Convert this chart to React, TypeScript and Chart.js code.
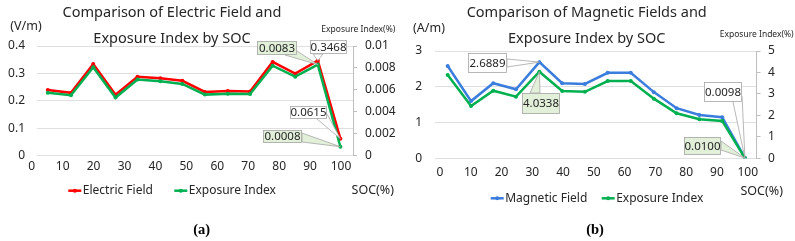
import React, { useEffect, useRef } from 'react';
import { Chart, registerables } from 'chart.js';

Chart.register(...registerables);

// ---------- data (a) ----------
const socA = [5.2, 12.7, 19.9, 27.1, 34.2, 41.6, 48.7, 56.0, 63.4, 70.6, 77.9, 85.2, 92.5, 99.8];
const electricField = [0.239, 0.229, 0.334, 0.222, 0.288, 0.282, 0.273, 0.232, 0.236, 0.234, 0.342, 0.299, 0.3468, 0.0615];
const exposureA = [0.00572, 0.00551, 0.00806, 0.00529, 0.00693, 0.00678, 0.00654, 0.00556, 0.00565, 0.00562, 0.0082, 0.0072, 0.0083, 0.0008];
const yTicksA = [0, 0.1, 0.2, 0.3, 0.4];
const yTickLabelsA = ['0', '0.1', '0.2', '0.3', '0.4'];
const y1TicksA = [0, 0.002, 0.004, 0.006, 0.008, 0.01];
const y1TickLabelsA = ['0', '0.002', '0.004', '0.006', '0.008', '0.01'];

// ---------- data (b) ----------
const socB = [2.5, 10.1, 17.3, 24.7, 32.3, 39.7, 47.1, 54.5, 62.0, 69.5, 76.9, 84.3, 91.7, 99.1];
const magneticField = [2.58, 1.6, 2.1, 1.93, 2.6889, 2.1, 2.08, 2.39, 2.39, 1.85, 1.4, 1.21, 1.15, 0.0098];
const exposureB = [3.88, 2.44, 3.15, 2.87, 4.0338, 3.14, 3.1, 3.6, 3.6, 2.78, 2.1, 1.82, 1.74, 0.01];
const yTicksB = [0, 1, 2, 3];
const yTickLabelsB = ['0', '1', '2', '3'];
const y1TicksB = [0, 1, 2, 3, 4, 5];
const y1TickLabelsB = ['0', '1', '2', '3', '4', '5'];

// shared x ticks
const xTicks = [0, 10, 20, 30, 40, 50, 60, 70, 80, 90, 100];
const xTickLabels = ['0', '10', '20', '30', '40', '50', '60', '70', '80', '90', '100'];

const FONT = '"Noto Sans", sans-serif';
const TXT = '#262626';
const RED = '#FF0000';
const GREEN = '#00B050';
const BLUE = '#3B7DDD';
const GRID = '#E0E0E0';
const AXIS = '#BFBFBF';
const CALLOUT_GREEN = '#E2F0D9';
const CALLOUT_BORDER = '#A6A6A6';

type TextItem = { text: string; x: number; y: number; size: number; align?: CanvasTextAlign; bold?: boolean; serif?: boolean };
type LegendItem = { text: string; x: number; y: number; color: string };
type Callout = { text: string; ds: number; idx: number; box: [number, number, number, number]; base: [number, number, number, number]; fill: string };
type Decor = { texts: TextItem[]; legend: LegendItem[]; callouts: Callout[]; xLabelY: number };

function makeDecor(cfg: Decor) {
  return {
    id: 'decor',
    afterDraw(chart: any) {
      const ctx: CanvasRenderingContext2D = chart.ctx;
      ctx.save();
      ctx.textBaseline = 'middle';
      // x-axis tick labels, placed through the library's x scale
      const xs = chart.scales.x;
      ctx.font = `12px ${FONT}`;
      ctx.fillStyle = TXT;
      ctx.textAlign = 'center';
      xTicks.forEach((v, i) => {
        ctx.fillText(xTickLabels[i], xs.getPixelForValue(v), cfg.xLabelY);
      });
      for (const t of cfg.texts) {
        ctx.font = `${t.bold ? 'bold ' : ''}${t.size}px ${t.serif ? '"Liberation Serif", serif' : FONT}`;
        ctx.fillStyle = t.serif ? '#000' : TXT;
        ctx.textAlign = t.align || 'center';
        ctx.fillText(t.text, t.x, t.y);
      }
      for (const l of cfg.legend) {
        ctx.strokeStyle = l.color;
        ctx.lineWidth = 2.5;
        ctx.beginPath();
        ctx.moveTo(l.x, l.y);
        ctx.lineTo(l.x + 13, l.y);
        ctx.stroke();
        ctx.fillStyle = l.color;
        ctx.beginPath();
        ctx.arc(l.x + 6.5, l.y, 2, 0, Math.PI * 2);
        ctx.fill();
        ctx.font = `12px ${FONT}`;
        ctx.fillStyle = TXT;
        ctx.textAlign = 'left';
        ctx.fillText(l.text, l.x + 14.5, l.y);
      }
      for (const c of cfg.callouts) {
        const pt = chart.getDatasetMeta(c.ds).data[c.idx];
        ctx.beginPath();
        ctx.moveTo(c.base[0], c.base[1]);
        ctx.lineTo(pt.x, pt.y);
        ctx.lineTo(c.base[2], c.base[3]);
        ctx.closePath();
        ctx.fillStyle = c.fill;
        ctx.fill();
        ctx.strokeStyle = CALLOUT_BORDER;
        ctx.lineWidth = 0.8;
        ctx.stroke();
        const [x0, y0, x1, y1] = c.box;
        ctx.fillStyle = c.fill;
        ctx.fillRect(x0, y0, x1 - x0, y1 - y0);
        ctx.strokeRect(x0 + 0.5, y0 + 0.5, x1 - x0 - 1, y1 - y0 - 1);
        ctx.font = `11.5px ${FONT}`;
        ctx.fillStyle = TXT;
        ctx.textAlign = 'center';
        ctx.fillText(c.text, (x0 + x1) / 2, (y0 + y1) / 2 + 0.5);
      }
      ctx.restore();
    },
  };
}

type Spec = {
  width: number;
  x: number[];
  main: number[];
  exp: number[];
  mainLabel: string;
  mainColor: string;
  area: { left: number; right: number; top: number; bottom: number };
  xZero: number;
  xHundred: number;
  yMax: number;
  y1Max: number;
  yTicks: number[];
  yLabels: string[];
  y1Ticks: number[];
  y1Labels: string[];
  yPad: number;
  y1Pad: number;
  decor: Decor;
};

function buildChart(canvas: HTMLCanvasElement, s: Spec) {
  const H = 241;
  const ppu = (s.xHundred - s.xZero) / 100;
  const xmin = (s.area.left - s.xZero) / ppu;
  const xmax = (s.area.right - s.xZero) / ppu;
  const tickFont = { family: FONT, size: 12 };
  return new Chart(canvas, {
    type: 'line',
    data: {
      datasets: [
        {
          label: s.mainLabel,
          data: s.x.map((v, i) => ({ x: v, y: s.main[i] })),
          borderColor: s.mainColor,
          backgroundColor: s.mainColor,
          borderWidth: 2.5,
          pointRadius: 2,
          pointBorderWidth: 0,
          tension: 0,
          yAxisID: 'y',
          order: 1,
        },
        {
          label: 'Exposure Index',
          data: s.x.map((v, i) => ({ x: v, y: s.exp[i] })),
          borderColor: GREEN,
          backgroundColor: GREEN,
          borderWidth: 2.5,
          pointRadius: 2,
          pointBorderWidth: 0,
          tension: 0,
          yAxisID: 'y1',
          order: 0,
        },
      ],
    },
    options: {
      animation: false,
      responsive: false,
      maintainAspectRatio: false,
      events: [],
      layout: { padding: { left: 0, right: 0, top: s.area.top, bottom: 0 } },
      scales: {
        x: {
          type: 'linear',
          min: xmin,
          max: xmax,
          afterFit: (sc: any) => {
            sc.height = H - s.area.bottom;
          },
          grid: { display: false, drawTicks: false },
          border: { display: false },
          ticks: { display: false },
        },
        y: {
          position: 'left',
          min: 0,
          max: s.yMax,
          afterBuildTicks: (sc: any) => {
            sc.ticks = s.yTicks.map((v) => ({ value: v }));
          },
          afterFit: (sc: any) => {
            sc.width = s.area.left;
          },
          grid: { color: GRID, drawTicks: false, lineWidth: 1 },
          border: { display: false },
          ticks: {
            padding: s.yPad,
            font: tickFont,
            color: TXT,
            callback: (_v: any, i: number) => s.yLabels[i],
          },
        },
        y1: {
          position: 'right',
          min: 0,
          max: s.y1Max,
          afterBuildTicks: (sc: any) => {
            sc.ticks = s.y1Ticks.map((v) => ({ value: v }));
          },
          afterFit: (sc: any) => {
            sc.width = s.width - s.area.right;
          },
          grid: { drawOnChartArea: false, drawTicks: true, tickLength: 4, color: AXIS },
          border: { display: true, color: AXIS },
          ticks: {
            padding: s.y1Pad,
            font: tickFont,
            color: TXT,
            callback: (_v: any, i: number) => s.y1Labels[i],
          },
        },
      },
      plugins: {
        legend: { display: false },
        tooltip: { enabled: false },
        title: { display: false },
      },
    } as any,
    plugins: [makeDecor(s.decor)],
  });
}

const specA: Spec = {
  width: 400,
  x: socA,
  main: electricField,
  exp: exposureA,
  mainLabel: 'Electric Field',
  mainColor: RED,
  area: { left: 37, right: 353, top: 46, bottom: 155.5 },
  xZero: 31.7,
  xHundred: 341,
  yMax: 0.4,
  y1Max: 0.01,
  yTicks: yTicksA,
  yLabels: yTickLabelsA,
  y1Ticks: y1TicksA,
  y1Labels: y1TickLabelsA,
  yPad: 12,
  y1Pad: 8,
  decor: {
    xLabelY: 167,
    texts: [
      { text: 'Comparison of Electric Field and', x: 172, y: 12.7, size: 14.5 },
      { text: 'Exposure Index by SOC', x: 172, y: 39.3, size: 14.5 },
      { text: '(V/m)', x: 26, y: 26, size: 12.5 },
      { text: 'Exposure Index(%)', x: 358.3, y: 29.3, size: 8.5 },
      { text: 'SOC(%)', x: 372.8, y: 190, size: 12.5 },
      { text: '(a)', x: 201.7, y: 230.3, size: 14.5, bold: true, serif: true },
    ],
    legend: [
      { text: 'Electric Field', x: 68.3, y: 190.7, color: RED },
      { text: 'Exposure Index', x: 174.3, y: 190.7, color: GREEN },
    ],
    callouts: [
      { text: '0.0083', ds: 1, idx: 12, box: [257, 41, 297, 55], base: [285, 55, 297, 51], fill: CALLOUT_GREEN },
      { text: '0.3468', ds: 0, idx: 12, box: [310, 40, 347, 54], base: [313, 54, 323, 54], fill: '#FFFFFF' },
      { text: '0.0615', ds: 0, idx: 13, box: [290, 106, 327, 119], base: [317, 119, 327, 114], fill: '#FFFFFF' },
      { text: '0.0008', ds: 1, idx: 13, box: [263, 130, 302, 143], base: [302, 133, 302, 142], fill: CALLOUT_GREEN },
    ],
  },
};

const specB: Spec = {
  width: 395,
  x: socB,
  main: magneticField,
  exp: exposureB,
  mainLabel: 'Magnetic Field',
  mainColor: BLUE,
  area: { left: 35, right: 356.5, top: 51, bottom: 158.3 },
  xZero: 40,
  xHundred: 347.7,
  yMax: 3,
  y1Max: 5,
  yTicks: yTicksB,
  yLabels: yTickLabelsB,
  y1Ticks: y1TicksB,
  y1Labels: y1TickLabelsB,
  yPad: 13,
  y1Pad: 7.5,
  decor: {
    xLabelY: 172.5,
    texts: [
      { text: 'Comparison of Magnetic Fields and', x: 186.7, y: 13.3, size: 14.5 },
      { text: 'Exposure Index by SOC', x: 186.7, y: 39, size: 14.5 },
      { text: '(A/m)', x: 29, y: 28.3, size: 12.5 },
      { text: 'Exposure Index(%)', x: 356.7, y: 34.3, size: 8.5 },
      { text: 'SOC(%)', x: 361.7, y: 191.7, size: 12.5 },
      { text: '(b)', x: 195, y: 230.3, size: 14.5, bold: true, serif: true },
    ],
    legend: [
      { text: 'Magnetic Field', x: 90.7, y: 198.3, color: BLUE },
      { text: 'Exposure Index', x: 201.7, y: 198.3, color: GREEN },
    ],
    callouts: [
      { text: '2.6889', ds: 0, idx: 4, box: [68, 53, 107, 73], base: [107, 59, 107, 67], fill: '#FFFFFF' },
      { text: '4.0338', ds: 1, idx: 4, box: [122, 93, 160, 114], base: [130, 93, 140, 93], fill: CALLOUT_GREEN },
      { text: '0.0098', ds: 0, idx: 13, box: [304, 82, 342, 102], base: [333, 102, 342, 96], fill: '#FFFFFF' },
      { text: '0.0100', ds: 1, idx: 13, box: [284, 137, 321, 155], base: [321, 141, 321, 150], fill: CALLOUT_GREEN },
    ],
  },
};

function ChartBox({ left, spec }: { left: number; spec: Spec }) {
  const ref = useRef<HTMLCanvasElement>(null);
  useEffect(() => {
    const chart = buildChart(ref.current as HTMLCanvasElement, spec);
    return () => chart.destroy();
  }, []);
  return (
    <canvas
      ref={ref}
      width={spec.width}
      height={241}
      style={{ position: 'absolute', left, top: 0, width: spec.width, height: 241 }}
    />
  );
}

export default function App() {
  return (
    <div style={{ position: 'absolute', left: 0, top: 0, width: 795, height: 241, background: '#fff', overflow: 'hidden' }}>
      <ChartBox left={0} spec={specA} />
      <ChartBox left={400} spec={specB} />
    </div>
  );
}
